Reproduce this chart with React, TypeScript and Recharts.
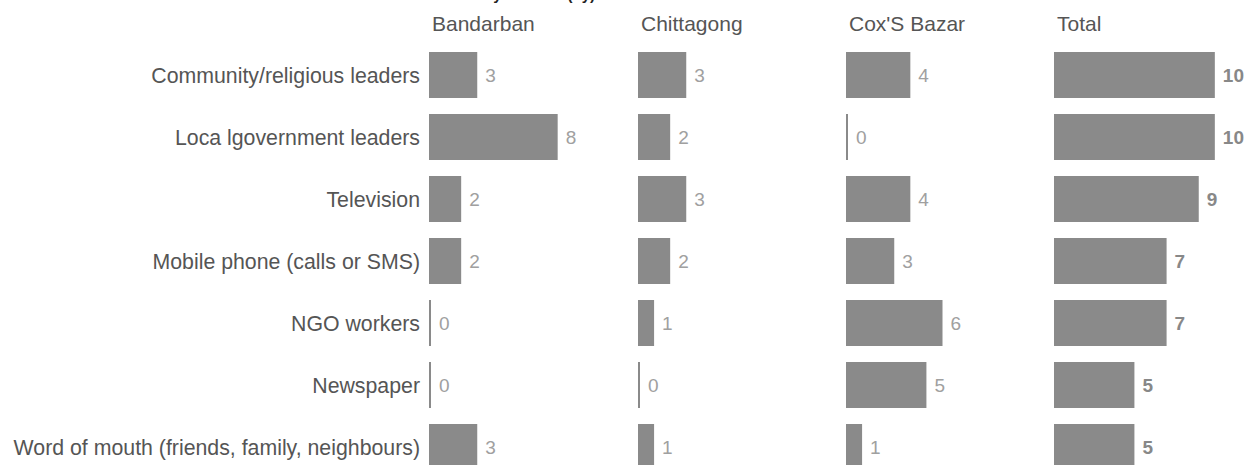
import React from 'react';
import { BarChart, Bar, XAxis, YAxis, LabelList } from 'recharts';

const categories = [
  'Community/religious leaders',
  'Loca lgovernment leaders',
  'Television',
  'Mobile phone (calls or SMS)',
  'NGO workers',
  'Newspaper',
  'Word of mouth (friends, family, neighbours)'
];

const bandarban = [3, 8, 2, 2, 0, 0, 3];
const chittagong = [3, 2, 3, 2, 1, 0, 1];
const coxsBazar = [4, 0, 4, 3, 6, 5, 1];
const total = [10, 10, 9, 7, 7, 5, 5];

const panelTitles = ['Bandarban', 'Chittagong', "Cox'S Bazar", 'Total'];

const FONT = '"Liberation Sans", Arial, sans-serif';
const BAR = '#8a8a8a';

const buildRows = (values: number[]) =>
  categories.map((name, i) => ({ name, value: values[i] }));

// zero values still get a thin 2px stub like the original
const MinBar = (props: any) => {
  const { x, y, width, height, fill } = props;
  return <rect x={x} y={y} width={Math.max(width || 0, 2)} height={height} fill={fill} />;
};

interface PanelProps {
  values: number[];
  left: number;
  width: number;
  yAxisWidth: number;
  showLabels: boolean;
  bold?: boolean;
}

function Panel({ values, left, width, yAxisWidth, showLabels, bold }: PanelProps) {
  const plotWidth = 193;
  const rightMargin = width - yAxisWidth - plotWidth;
  return (
    <div style={{ position: 'absolute', left, top: 0 }}>
      <BarChart
        width={width}
        height={490}
        data={buildRows(values)}
        layout="vertical"
        margin={{ top: 44, right: rightMargin, bottom: 12, left: 0 }}
        style={{ overflow: 'visible' }}
      >
        <XAxis type="number" domain={[0, 12]} hide />
        <YAxis
          type="category"
          dataKey="name"
          width={yAxisWidth}
          hide={!showLabels}
          axisLine={false}
          tickLine={false}
          tickMargin={3}
          interval={0}
          tick={{ fontSize: 21.3, fill: '#555', fontFamily: FONT }}
        />
        <Bar
          dataKey="value"
          fill={BAR}
          barSize={46}
          minPointSize={2}
          shape={<MinBar />}
          isAnimationActive={false}
        >
          <LabelList
            dataKey="value"
            position="right"
            offset={8}
            style={{
              fontSize: 19,
              fontFamily: FONT,
              fill: bold ? '#888' : '#a0a0a0',
              fontWeight: bold ? 'bold' : 'normal'
            }}
          />
        </Bar>
      </BarChart>
    </div>
  );
}

export default function App() {
  const plotStarts = [429, 638, 846, 1054];
  return (
    <div
      style={{
        position: 'absolute',
        left: 0,
        top: 0,
        width: 1246,
        height: 465,
        overflow: 'hidden',
        background: '#fff',
        fontFamily: FONT
      }}
    >
      <div
        style={{
          position: 'absolute',
          right: 1246 - 595,
          top: -14,
          fontSize: 15,
          fontWeight: 'bold',
          color: '#222',
          whiteSpace: 'nowrap'
        }}
      >
        Sources of information by location (by)
      </div>
      {panelTitles.map((t, i) => (
        <div
          key={t}
          style={{
            position: 'absolute',
            left: plotStarts[i] + 3,
            top: 12,
            lineHeight: '24px',
            fontSize: 21,
            color: '#555',
            whiteSpace: 'nowrap'
          }}
        >
          {t}
        </div>
      ))}
      <Panel values={bandarban} left={0} width={638} yAxisWidth={429} showLabels />
      <Panel values={chittagong} left={638} width={208} yAxisWidth={0} showLabels={false} />
      <Panel values={coxsBazar} left={846} width={208} yAxisWidth={0} showLabels={false} />
      <Panel values={total} left={1054} width={192} yAxisWidth={0} showLabels={false} bold />
    </div>
  );
}
